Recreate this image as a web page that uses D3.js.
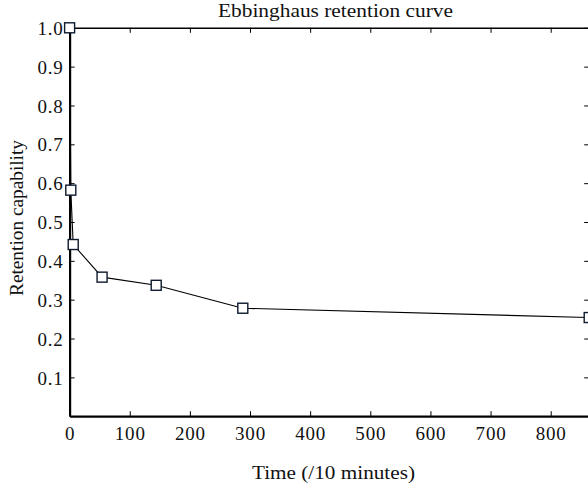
<!DOCTYPE html>
<html><head><meta charset="utf-8">
<script src="https://cdn.jsdelivr.net/npm/d3@7"></script>
<style>
html,body{margin:0;padding:0;background:#fff;}
svg text{font-family:"Liberation Serif","DejaVu Serif",serif;fill:#111;}
</style></head>
<body><svg id="c" width="588" height="488"></svg>
<script>
const timeValues = [0, 2, 6, 54, 144, 288, 864];
const retentionValues = [1.0, 0.582, 0.442, 0.358, 0.337, 0.278, 0.254];
const xTickValues = [0, 100, 200, 300, 400, 500, 600, 700, 800];
const yTickValues = [0.1, 0.2, 0.3, 0.4, 0.5, 0.6, 0.7, 0.8, 0.9, 1.0];
const titleText = "Ebbinghaus retention curve";
const xLabelText = "Time (/10 minutes)";
const yLabelText = "Retention capability";

const svg = d3.select("#c");
const L = 69.6, R = 589.2, T = 27.8, B = 416.2;
const x = d3.scaleLinear().domain([0, 864]).range([L, R]);
const y = d3.scaleLinear().domain([0, 1]).range([B, T]);

const g = svg.append("g");
// bottom axis
const xa = g.append("g").attr("transform", `translate(0,${B})`)
  .call(d3.axisBottom(x).tickValues(xTickValues).tickSizeInner(-5).tickSizeOuter(0).tickFormat(d3.format("d")));
xa.select(".domain").attr("stroke-width", 2.2);
xa.selectAll(".tick text").attr("y", 24).attr("dy", null)
  .style("font-size", "19px").style("letter-spacing", "0.8px").attr("fill", "#111");
// top axis
const xt = g.append("g").attr("transform", `translate(0,${T})`)
  .call(d3.axisTop(x).tickValues(xTickValues).tickSizeInner(-5).tickSizeOuter(0).tickFormat(""));
xt.select(".domain").attr("stroke-width", 1.6);
xt.selectAll(".tick").filter(d => d === 0).remove();
// left axis
const ya = g.append("g").attr("transform", `translate(${L},0)`)
  .call(d3.axisLeft(y).tickValues(yTickValues).tickSizeInner(-5).tickSizeOuter(0).tickFormat(d3.format(".1f")));
ya.select(".domain").attr("stroke-width", 2.2);
ya.selectAll(".tick text").attr("x", -6).attr("dy", "0.35em")
  .style("font-size", "19px").style("letter-spacing", "0.8px").attr("fill", "#111");
// right axis
const yr = g.append("g").attr("transform", `translate(${R},0)`)
  .call(d3.axisRight(y).tickValues(yTickValues).tickSizeInner(-5).tickSizeOuter(0).tickFormat(""));
yr.select(".domain").attr("stroke-width", 1.6);

// line
const pts = timeValues.map((t, i) => [t, retentionValues[i]]);
g.append("path").datum(pts)
  .attr("fill", "none").attr("stroke", "#000").attr("stroke-width", 1.1)
  .attr("d", d3.line().x(d => x(d[0])).y(d => y(d[1])));
// markers
const s = 10;
g.selectAll("rect.m").data(pts).join("rect").attr("class", "m")
  .attr("x", d => x(d[0]) - s / 2).attr("y", d => y(d[1]) - s / 2)
  .attr("width", s).attr("height", s)
  .attr("fill", "#fff").attr("stroke", "#0e1a2e").attr("stroke-width", 1.4);

// title and labels
svg.append("text").attr("x", 335.5).attr("y", 17).attr("text-anchor", "middle")
  .attr("textLength", 235).attr("lengthAdjust", "spacingAndGlyphs")
  .style("font-size", "19px").text(titleText);
svg.append("text").attr("x", 333.5).attr("y", 479).attr("text-anchor", "middle")
  .attr("textLength", 163).attr("lengthAdjust", "spacingAndGlyphs")
  .style("font-size", "19px").text(xLabelText);
svg.append("text").attr("transform", "translate(23,218) rotate(-90)").attr("text-anchor", "middle")
  .attr("textLength", 156).attr("lengthAdjust", "spacingAndGlyphs")
  .style("font-size", "19px").text(yLabelText);
</script></body></html>
